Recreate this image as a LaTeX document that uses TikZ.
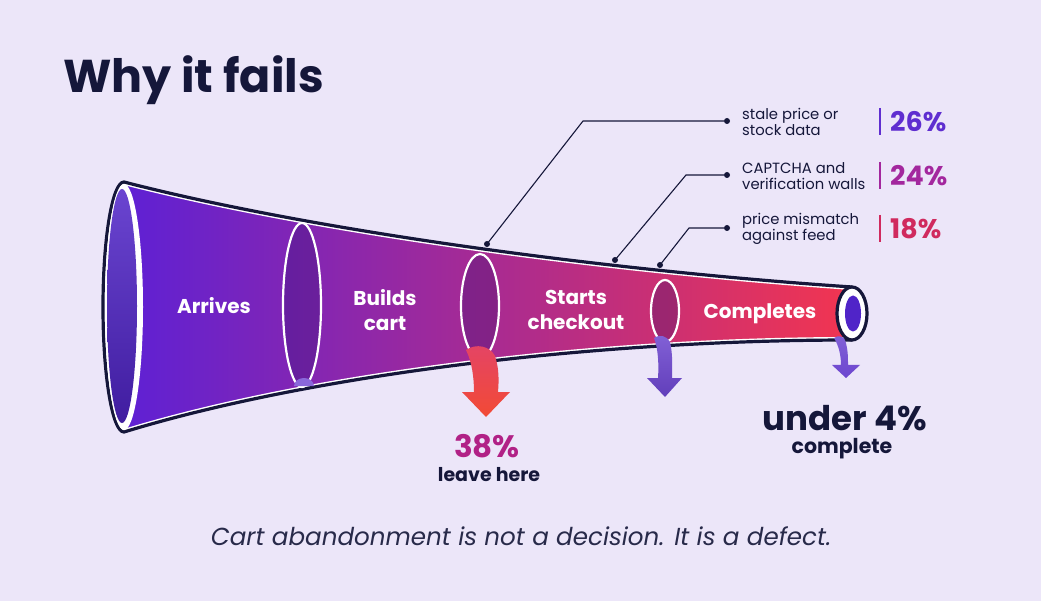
\documentclass[tikz,border=0pt]{standalone}
\usepackage{fontspec}
\setmainfont{Poppins}
\usetikzlibrary{positioning}
\definecolor{bgcol}{HTML}{ECE6F9}
\definecolor{ink}{HTML}{15173A}
\definecolor{funA}{HTML}{5A20D8}
\definecolor{funB}{HTML}{A92BC0}
\definecolor{funC}{HTML}{F23550}
\definecolor{mouthcol}{HTML}{5024C8}
\definecolor{pctA}{HTML}{5F2ED0}
\definecolor{pctB}{HTML}{A3279E}
\definecolor{pctC}{HTML}{D02A5E}
\definecolor{dropA}{HTML}{E44466}
\definecolor{dropB}{HTML}{F24A35}
\definecolor{dropP}{HTML}{6C45CF}
\definecolor{capcol}{HTML}{8A68DA}
\tikzset{
  stage/.style={text=white, font=\bfseries\fontsize{20}{25}\selectfont, align=center},
  ring/.style={draw=white, line width=2.2pt, fill=black!50!funA, fill opacity=0.3},
  callout/.style={anchor=west, align=left, text=ink, inner sep=0pt, font=\fontsize{14.8}{16}\selectfont},
  pct/.style={anchor=west, inner sep=0pt, font=\bfseries\fontsize{27}{27}\selectfont},
  lead/.style={draw=ink, line width=1.1pt},
  dot/.style={circle, fill=ink, inner sep=0pt, minimum size=6pt},
}
\def\funnelpath{(124,182) .. controls (310,230) and (600,270) .. (852,287)
  -- (852,340) .. controls (580,340) and (300,378) .. (124,432)
  arc[start angle=90, end angle=270, x radius=21, y radius=125] -- cycle}
\begin{document}
\begin{tikzpicture}[x=1pt, y=-1pt]
\useasboundingbox (0,0) rectangle (1041,601);
\fill[bgcol] (0,0) rectangle (1041,601);
% title
\node[anchor=base west, inner sep=0pt, text=ink, font=\bfseries\fontsize{46}{46}\selectfont] (title) at (63,93) {Why it fails};
% funnel body
\shade[left color=funA, middle color=funB, right color=funC] \funnelpath;
\begin{scope}
  \clip \funnelpath;
  \draw[white, line width=6pt] \funnelpath;
\end{scope}
\draw[ink, line width=3.2pt, line join=round] \funnelpath;
% mouth
\fill[white] (124,307) ellipse[x radius=19, y radius=123];
\shade[top color=mouthcol!85!white, bottom color=mouthcol!80!black] (122,306) ellipse[x radius=15, y radius=117];
% right end
\draw[ink, line width=3.2pt, fill=white] (852,313.5) ellipse[x radius=15, y radius=26.5];
\fill[mouthcol] (853,313.5) ellipse[x radius=8, y radius=18];
% rings
\draw[ring] (302,305) ellipse[x radius=19, y radius=82];
\draw[ring] (480,306) ellipse[x radius=19, y radius=52];
\draw[ring] (665,311) ellipse[x radius=14, y radius=31];
\fill[capcol] (294,386) arc[start angle=180, end angle=360, x radius=10, y radius=8] -- cycle;
% stage labels
\node[stage] (arrives) at (214,306) {Arrives};
\node[stage] (builds) at (385,310) {Builds\\cart};
\node[stage] (starts) at (576,310) {Starts\\checkout};
\node[stage] (completes) at (760,314) {Completes};
% drop arrows
\shade[top color=dropA, bottom color=dropB]
  (466,350) .. controls (476,343) and (490,346) .. (495,356)
  .. controls (499,368) and (499,380) .. (498,392) -- (510,392) -- (486,417) -- (462,392) -- (474,392)
  .. controls (474,378) and (472,362) .. (466,350) -- cycle;
\shade[top color=dropP!85!white, bottom color=dropP!90!black]
  (654,338) .. controls (660,334) and (667,336) .. (670,342)
  .. controls (673,355) and (672,366) .. (672,378) -- (682,378) -- (665,397) -- (647,378) -- (658,378)
  .. controls (659,364) and (658,348) .. (654,338) -- cycle;
\shade[top color=dropP!85!white, bottom color=dropP]
  (834,338) .. controls (838,335) and (843,336) .. (845,340)
  .. controls (848,349) and (848,357) .. (848,365) -- (860,365) -- (846,378) -- (832,365) -- (841,365)
  .. controls (841,356) and (839,346) .. (834,338) -- cycle;
% drop labels
\node[text=pctB!85!red, font=\bfseries\fontsize{31}{31}\selectfont] (leavepct) at (487,446) {38\%};
\node[text=ink, font=\bfseries\fontsize{19}{19}\selectfont] (leave) at (489,475) {leave here};
\node[text=ink, font=\bfseries\fontsize{34}{34}\selectfont] (underpct) at (845,418) {under 4\%};
\node[text=ink, font=\bfseries\fontsize{20.5}{20.5}\selectfont] (complete) at (842,449) {complete};
% callouts
\coordinate (f1) at (487,244);
\coordinate (f2) at (615,260);
\coordinate (f3) at (660,265);
\node[dot] (d1) at (727,121) {};
\node[dot] (d2) at (727,175) {};
\node[dot] (d3) at (727,228) {};
\coordinate (k1) at (583,121);
\coordinate (k2) at (686,175);
\coordinate (k3) at (689,228);
\draw[lead] (d1) -- (k1) -- (f1);
\draw[lead] (d2) -- (k2) -- (f2);
\draw[lead] (d3) -- (k3) -- (f3);
\foreach \f in {f1,f2,f3} \fill[ink] (\f) circle (3);
\node[callout] (c1) at (742,122) {stale price or\\stock data};
\node[callout] (c2) at (742,176) {CAPTCHA and\\verification walls};
\node[callout] (c3) at (742,229) {price mismatch\\against feed};
\draw[pctA, line width=2pt] (880,108) -- (880,135);
\draw[pctB, line width=2pt] (880,162) -- (880,189);
\draw[pctC, line width=2pt] (880,215) -- (880,242);
\node[pct, text=pctA] (p1) at (890,122) {26\%};
\node[pct, text=pctB] (p2) at (890,176) {24\%};
\node[pct, text=pctC] (p3) at (890,229) {18\%};
% caption
\node[text=ink!92!white, font=\itshape\fontsize{24.6}{24.6}\selectfont] (caption) at (521,536) {Cart abandonment is not a decision. It is a defect.};
\end{tikzpicture}
\end{document}
